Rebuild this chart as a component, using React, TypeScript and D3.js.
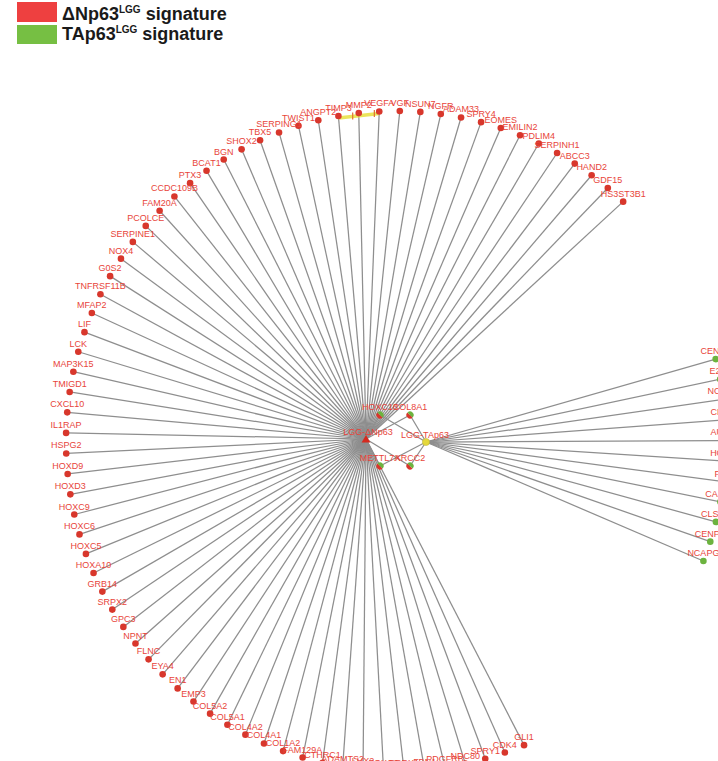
import React from "react";
import * as d3 from "d3";

// ---- data ----
const redGenes = [
  "HS3ST3B1", "GDF15", "HAND2", "ABCC3", "SERPINH1", "PDLIM4", "EMILIN2", "EOMES", "SPRY4", "ADAM33",
  "NGFR", "NSUN7", "VGF", "VEGFA", "MMP2", "TIMP3", "ANGPT2", "TWIST1", "SERPING1", "TBX5",
  "SHOX2", "BGN", "BCAT1", "PTX3", "CCDC109B", "FAM20A", "PCOLCE", "SERPINE1", "NOX4", "G0S2",
  "TNFRSF11B", "MFAP2", "LIF", "LCK", "MAP3K15", "TMIGD1", "CXCL10", "IL1RAP", "HSPG2", "HOXD9",
  "HOXD3", "HOXC9", "HOXC6", "HOXC5", "HOXA10", "GRB14", "SRPX2", "GPC3", "NPNT", "FLNC",
  "EYA4", "EN1", "EMP3", "COL5A2", "COL5A1", "COL4A2", "COL4A1", "COL1A2", "FAM129A", "CTHRC1",
  "ADAMTS2", "LHX2", "FOXC2", "PRRX1", "FBN1", "PDGFRB", "NDC80", "SPRY1", "CDK4", "GLI1",
];
const redSlots = [
  0, 1, 2, 3, 4, 5, 6, 7, 8, 9, 10, 11, 12, 13, 14, 15, 16, 17, 18, 19,
  20, 21, 22, 23, 24, 25, 26, 27, 28, 29, 30, 31, 32, 33, 34, 35, 36, 37, 38, 39,
  40, 41, 42, 43, 44, 45, 46, 47, 48, 49, 50, 51, 52, 53, 54, 55, 56, 57, 58, 59,
  60, 61, 62, 63, 64, 65, 66, 67, 68, 69,
];
const greenGenes = ["CENPF", "E2F8", "NCAPH", "CDC20", "AURKA", "HOXB7", "PBK", "CASC5", "CLSPN", "CENPE", "NCAPG"];
const greenSlots = [-9, -10, -11, -12, -13, -14, -15, -16, -17, -18, -19];
const sharedGenes = ["HOXC13", "COL8A1", "METTL7A", "XRCC2"];
const hubNames = ["LGG-ΔNp63", "LGG-TAp63"];
const highlightPair = ["TIMP3", "VEGFA"];
const legendItems = [
  { main: "ΔNp63", sup: "LGG", rest: " signature" },
  { main: "TAp63", sup: "LGG", rest: " signature" },
];

// ---- layout ----
const W = 718, H = 761;
const cx = 396, cy = 441, R = 330;
const angle = d3.scaleLinear().domain([0, 1]).range([43.5, 43.5 - 3.57]);
const toXY = (slot: number) => {
  const t = (angle(slot) * Math.PI) / 180;
  return [cx + R * Math.sin(t), cy - R * Math.cos(t)];
};
const hubPos = [
  [cx - 30, cy - 2],
  [cx + 30, cy + 1],
];
const sharedPos = [
  [cx - 16, cy - 26],
  [cx + 14, cy - 26],
  [cx - 16, cy + 25],
  [cx + 14, cy + 25],
];

const RED = "#d8372c";
const GREEN = "#6cb33f";
const LABEL = "#e8453a";
const EDGE = "#8e8e8e";
const FONT = "'Liberation Sans', Arial, sans-serif";

export default function App() {
  const red = redGenes.map((g, i) => {
    const [x, y] = toXY(redSlots[i]);
    return { g, x, y };
  });
  const green = greenGenes.map((g, i) => {
    const [x, y] = toXY(greenSlots[i]);
    return { g, x, y };
  });
  const [dn, ta] = hubPos;
  const hl = highlightPair.map((n) => red.find((r) => r.g === n)!);
  const tri = d3.symbol().type(d3.symbolTriangle).size(34)();
  const arc = d3.arc<any>().innerRadius(0).outerRadius(3.6);
  const greenHalf = arc({ startAngle: -Math.PI / 4, endAngle: (3 * Math.PI) / 4 });
  const redHalf = arc({ startAngle: (3 * Math.PI) / 4, endAngle: (7 * Math.PI) / 4 });

  return (
    <svg
      width={W}
      height={H}
      style={{ position: "absolute", left: 0, top: 0, display: "block", background: "#fff" }}
      fontFamily={FONT}
    >
      {/* legend */}
      <g>
        <rect x={17} y={2} width={40} height={20} fill="#ee4040" />
        <rect x={17} y={25} width={40} height={19} fill="#76bf43" />
        {legendItems.map((it, i) => (
          <text key={i} x={62} y={20 + i * 20} fontSize={18} fontWeight="bold" fill="#1a1a1a">
            {it.main}
            <tspan fontSize={10} dy={-7}>{it.sup}</tspan>
            <tspan dy={7}>{it.rest}</tspan>
          </text>
        ))}
      </g>

      {/* edges */}
      <g stroke={EDGE} strokeWidth={1.25} fill="none">
        {red.map((n) => (
          <line key={"e" + n.g} x1={dn[0]} y1={dn[1]} x2={n.x} y2={n.y} />
        ))}
        {green.map((n) => (
          <line key={"e" + n.g} x1={ta[0]} y1={ta[1]} x2={n.x} y2={n.y} />
        ))}
        {sharedPos.map((p, i) => (
          <g key={"s" + i}>
            <line x1={dn[0]} y1={dn[1]} x2={p[0]} y2={p[1]} />
            <line x1={ta[0]} y1={ta[1]} x2={p[0]} y2={p[1]} />
          </g>
        ))}
      </g>

      {/* highlighted edge */}
      <g>
        <line x1={hl[0].x} y1={hl[0].y + 2} x2={hl[1].x} y2={hl[1].y + 2} stroke="#e9e34a" strokeWidth={3.5} opacity={0.9} />
        {[0.35, 0.88].map((f, i) => {
          const x = hl[0].x + (hl[1].x - hl[0].x) * f;
          const y = hl[0].y + 2 + (hl[1].y - hl[0].y) * f;
          return <line key={i} x1={x} y1={y - 4} x2={x} y2={y + 3} stroke="#e07030" strokeWidth={1.2} />;
        })}
      </g>

      {/* nodes */}
      <g>
        {red.map((n) => (
          <circle key={"n" + n.g} cx={n.x} cy={n.y} r={3.3} fill={RED} />
        ))}
        {green.map((n) => (
          <circle key={"n" + n.g} cx={n.x} cy={n.y} r={3.3} fill={GREEN} />
        ))}
        {sharedPos.map((p, i) => (
          <g key={"sn" + i} transform={`translate(${p[0]},${p[1]})`}>
            <path d={redHalf!} fill={RED} />
            <path d={greenHalf!} fill={GREEN} />
          </g>
        ))}
        <path d={tri!} transform={`translate(${dn[0]},${dn[1] + 1})`} fill="#d42a1f" />
        <circle cx={ta[0]} cy={ta[1]} r={3.6} fill="#e4d83c" stroke="#b8b030" strokeWidth={0.5} />
      </g>

      {/* labels */}
      <g fontSize={9} fill={LABEL} textAnchor="middle">
        {red.map((n) => (
          <text key={"l" + n.g} x={n.x} y={n.y - 5}>{n.g}</text>
        ))}
        {green.map((n) => (
          <text key={"l" + n.g} x={n.x} y={n.y - 5}>{n.g}</text>
        ))}
        {sharedGenes.map((g, i) => (
          <text key={"ls" + g} x={sharedPos[i][0]} y={sharedPos[i][1] - 5}>{g}</text>
        ))}
        {hubNames.map((h, i) => (
          <text key={h} x={hubPos[i][0] + (i === 0 ? 2 : -1)} y={hubPos[i][1] - 4}>{h}</text>
        ))}
      </g>
    </svg>
  );
}
